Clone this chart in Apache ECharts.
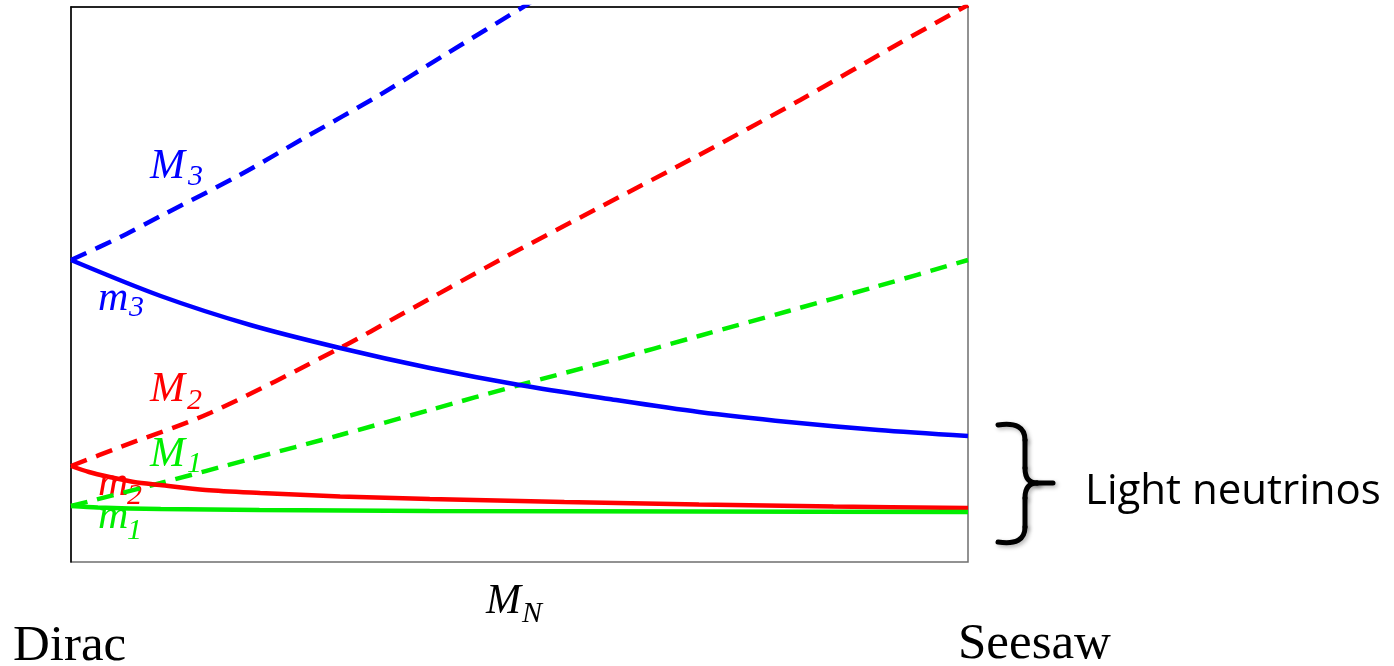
<!DOCTYPE html>
<html>
<head>
<meta charset="utf-8">
<script src="https://cdn.jsdelivr.net/npm/echarts@6/dist/echarts.min.js"></script>
<style>
  html, body { margin: 0; padding: 0; background: #fff; }
  #chart { width: 1394px; height: 666px; }
</style>
</head>
<body>
<div id="chart"></div>
<script>
// Mass spectrum from the Dirac limit (left) to the seesaw limit (right).
// x: position along M_N (0..100), y: mass in arbitrary units (0..555).
const m1Light = [[0,56],[3,54.5],[10,53],[21,52],[40,51],[70,50.5],[100,50]];
const m2Light = [[0,96],[2,90],[4.3,85],[7,80],[9.9,77],[15,72],[21.1,69],[30,65.5],[40,63],[55,60],[70,57.5],[85,55.5],[100,54]];
const m3Light = [[0,302],[10,266],[20,237],[30,214],[40,194],[50,177],[60,163],[70,150],[80,140],[90,132],[100,126]];
const M1Heavy = [[0,56],[10,79],[20,103],[30,127],[40,152],[50,177],[60,201],[70,226],[80,251],[90,276],[100,302]];
const M2Heavy = [[0,96],[5.5,115],[15.5,149],[30,214],[36.7,247],[47.8,302],[59,355],[69.6,405],[81.3,462],[92.4,519],[100,557]];
const M3Heavy = [[0,302],[5.5,325],[10,346],[18.8,387],[26,424],[34.4,467],[42,509],[50.4,555],[54.5,578]];

const BLUE = '#0000ff', RED = '#ff0000', GREEN = '#00ee00';
const DASH = [17, 10];

function curve(name, data, color, dashed) {
  return {
    name, type: 'line', data,
    smooth: 0.3,
    showSymbol: false, symbol: 'none',
    clip: true,
    lineStyle: { color, width: 4.5, type: dashed ? DASH : 'solid', cap: 'butt' },
    emphasis: { disabled: true },
    z: dashed ? 3 : 4
  };
}

// Italic symbol with a subscript, placed by glyph baseline
const SERIF = "'Liberation Serif', 'DejaVu Serif', serif";
function txt(text, x, base, color, size, italic, family) {
  return { type: 'text', x: x, y: base + Math.round(size * 0.2), silent: true,
    style: { text, fill: color, fontFamily: family || SERIF, fontSize: size,
             fontStyle: italic ? 'italic' : 'normal', verticalAlign: 'bottom' } };
}
function symbolText(main, sub, x, base, sx, sbase, color) {
  return [txt(main, x, base, color, 42, true), txt(sub, sx, sbase, color, 30, true)];
}

const labels = [].concat(
  symbolText('M', '3', 150, 180, 188, 186, BLUE),
  symbolText('m', '3', 98, 312, 129, 317, BLUE),
  symbolText('M', '2', 150, 403, 187, 410, RED),
  symbolText('M', '1', 150, 468, 187, 473, GREEN),
  symbolText('m', '2', 98, 497, 127, 505, RED),
  symbolText('m', '1', 98, 530, 127, 540, GREEN),
  symbolText('M', 'N', 486, 615, 522, 623, '#000')
);

// curly brace grouping the light states
const braceStyle = { stroke: '#000', lineWidth: 5, fill: null, lineCap: 'round',
                     shadowBlur: 4, shadowColor: 'rgba(0,0,0,0.3)', shadowOffsetX: 2, shadowOffsetY: 2 };
const brace = {
  type: 'group', silent: true,
  children: [
    { type: 'bezierCurve', shape: { x1: 998, y1: 425, cpx1: 1025, cpy1: 421, x2: 1025, y2: 440 }, style: braceStyle },
    { type: 'line', shape: { x1: 1025, y1: 440, x2: 1025, y2: 468 }, style: braceStyle },
    { type: 'bezierCurve', shape: { x1: 1025, y1: 468, cpx1: 1025, cpy1: 483, x2: 1037, y2: 483 }, style: braceStyle },
    { type: 'line', shape: { x1: 1037, y1: 483, x2: 1053, y2: 483 }, style: braceStyle },
    { type: 'bezierCurve', shape: { x1: 1037, y1: 483, cpx1: 1025, cpy1: 483, x2: 1025, y2: 498 }, style: braceStyle },
    { type: 'line', shape: { x1: 1025, y1: 498, x2: 1025, y2: 527 }, style: braceStyle },
    { type: 'bezierCurve', shape: { x1: 1025, y1: 527, cpx1: 1025, cpy1: 546, x2: 998, y2: 542 }, style: braceStyle }
  ]
};

const chart = echarts.init(document.getElementById('chart'), null, { renderer: 'canvas' });
chart.setOption({
  backgroundColor: '#ffffff',
  animation: false,
  grid: { left: 71, top: 7, width: 897, height: 555, show: true,
          borderColor: '#6f6f6f', borderWidth: 1.5, backgroundColor: 'transparent' },
  xAxis: [
    { type: 'value', min: 0, max: 100, position: 'bottom',
      axisLine: { show: false }, axisTick: { show: false }, axisLabel: { show: false }, splitLine: { show: false } },
    { type: 'value', min: 0, max: 100, position: 'top',
      axisLine: { show: true, onZero: false, lineStyle: { color: '#000', width: 1.5 } },
      axisTick: { show: false }, axisLabel: { show: false }, splitLine: { show: false } }
  ],
  yAxis: {
    type: 'value', min: 0, max: 555,
    axisLine: { show: true, onZero: false, lineStyle: { color: '#000', width: 1.5 } },
    axisTick: { show: false }, axisLabel: { show: false }, splitLine: { show: false }
  },
  series: [
    curve('M3', M3Heavy, BLUE, true),
    curve('M2', M2Heavy, RED, true),
    curve('M1', M1Heavy, GREEN, true),
    curve('m3', m3Light, BLUE, false),
    curve('m2', m2Light, RED, false),
    curve('m1', m1Light, GREEN, false)
  ],
  graphic: labels.concat([
    txt('Dirac', 13, 662, '#000', 51, false),
    txt('Seesaw', 958, 660, '#000', 51, false),
    { type: 'text', x: 1085, y: 513, silent: true,
      style: { text: 'Light neutrinos', fill: '#000', fontFamily: "'Open Sans', Lato, sans-serif",
               fontSize: 42, verticalAlign: 'bottom' } },
    brace
  ])
});
</script>
</body>
</html>
